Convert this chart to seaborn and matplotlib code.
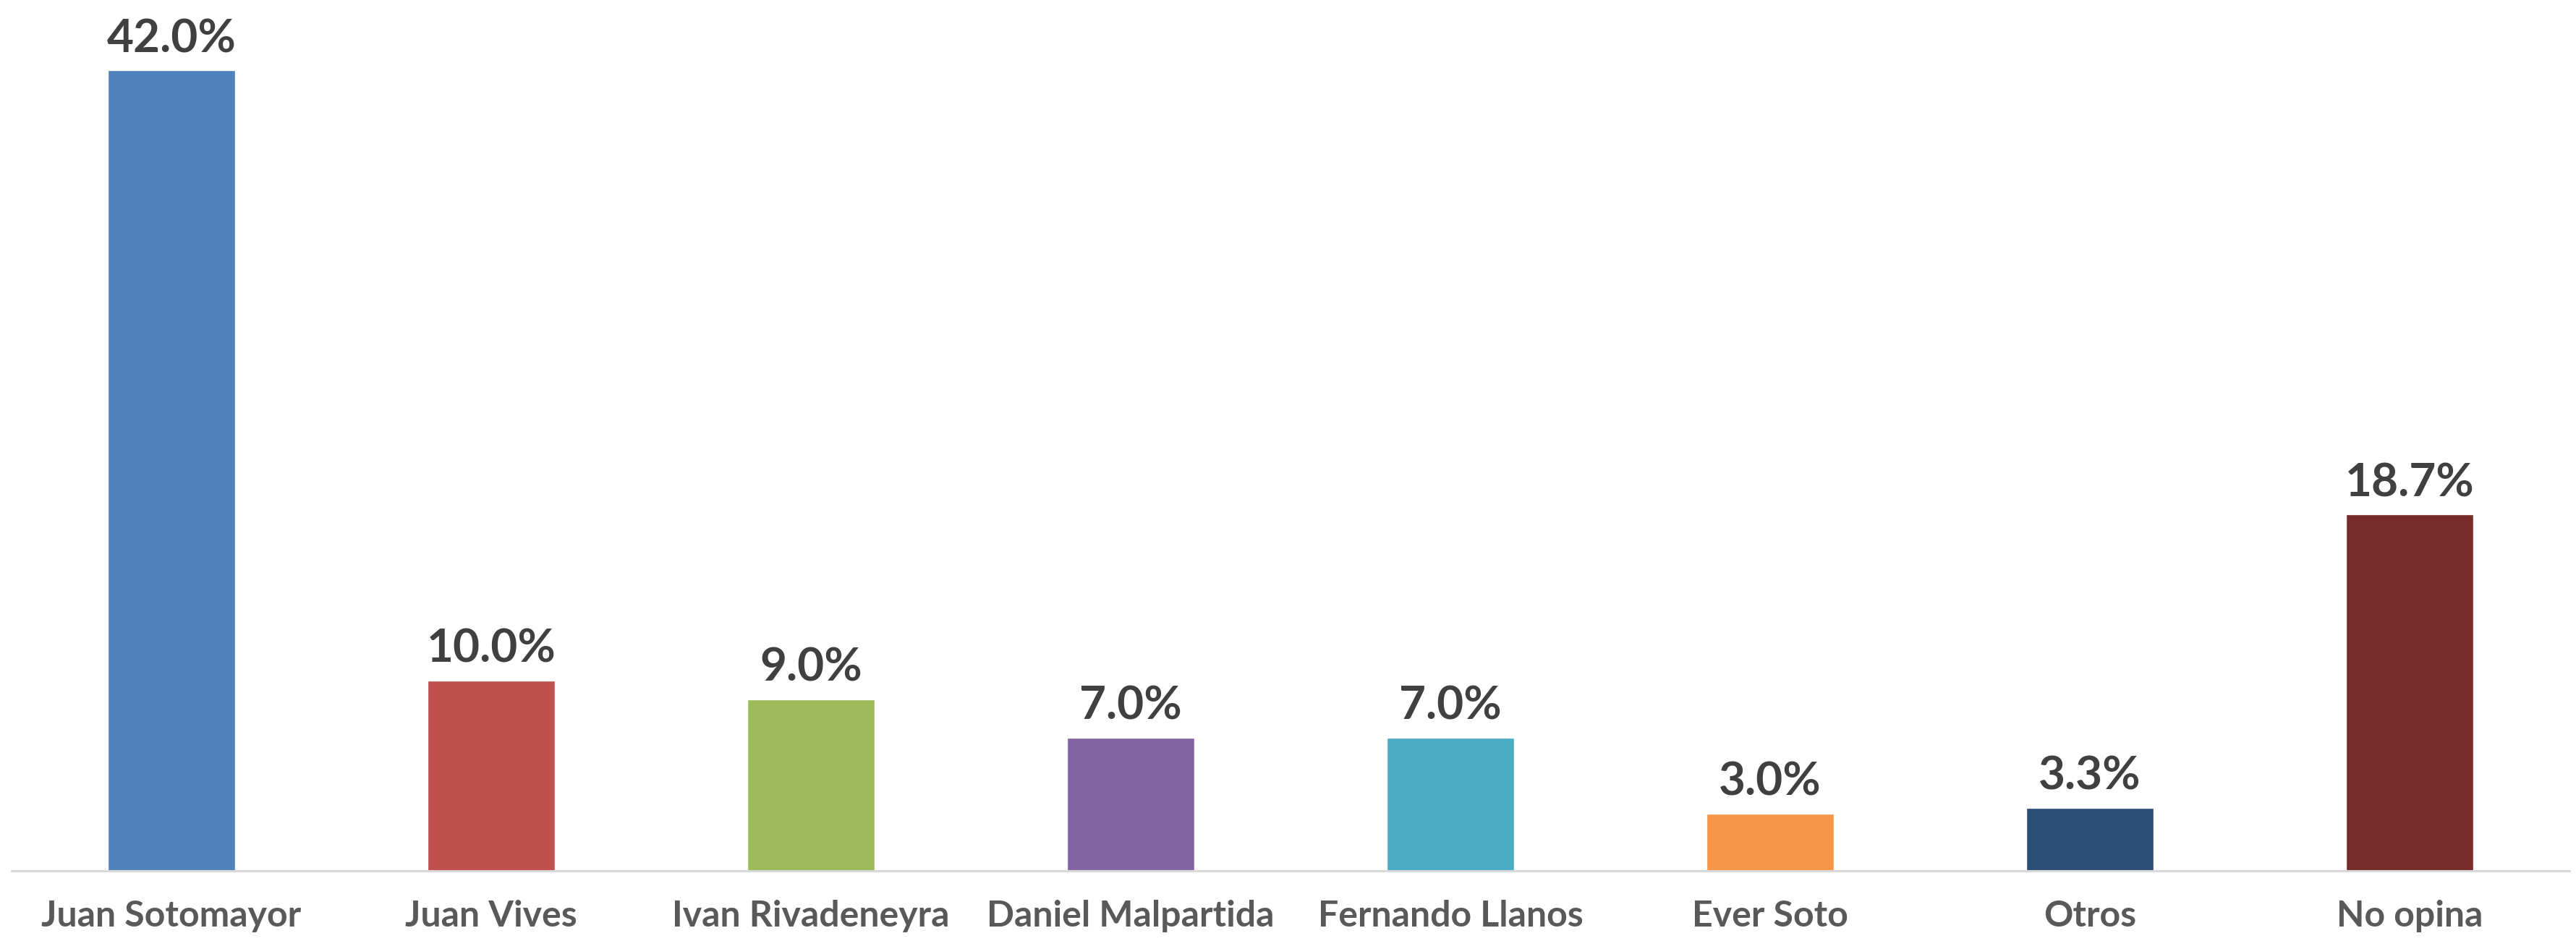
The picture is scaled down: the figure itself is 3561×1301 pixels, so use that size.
import matplotlib
matplotlib.use("Agg")
import matplotlib.pyplot as plt
import seaborn as sns
import pandas as pd

categories = ["Juan Sotomayor", "Juan Vives", "Ivan Rivadeneyra", "Daniel Malpartida",
              "Fernando Llanos", "Ever Soto", "Otros", "No opina"]
values = [42.0, 10.0, 9.0, 7.0, 7.0, 3.0, 3.3, 18.7]
colors = ["#4F81BD", "#C0504D", "#9BBB59", "#8064A2", "#4BACC6", "#F79646", "#2C4D75", "#772C2A"]

sns.set_theme(style="white")
plt.rcParams['font.family'] = ['Lato', 'DejaVu Sans']

df = pd.DataFrame({"cat": categories, "val": values})

fig = plt.figure(figsize=(35.61, 13.01), dpi=100)
ax = fig.add_axes([16/3561, (1301-1204)/1301, 3536/3561, 1204/1301])

sns.barplot(data=df, x="cat", y="val", hue="cat", palette=colors, dodge=False,
            width=0.4, legend=False, ax=ax, saturation=1)

ax.set_xlim(-0.5, len(categories) - 0.5)
ax.set_ylim(0, 45.7)

for c in ax.containers:
    ax.bar_label(c, labels=[f"{v:.1f}%" for v in c.datavalues], padding=11,
                 fontsize=46, fontweight='bold', color="#404040")

for s in ["top", "right", "left"]:
    ax.spines[s].set_visible(False)
ax.spines["bottom"].set_color("#D9D9D9")
ax.spines["bottom"].set_linewidth(2.25)
ax.set_yticks([])
ax.set_xlabel("")
ax.set_ylabel("")
ax.tick_params(axis='x', length=0, pad=29)
for lbl in ax.get_xticklabels():
    lbl.set_fontsize(36)
    lbl.set_fontweight('bold')
    lbl.set_color("#595959")

fig.savefig("out.png", dpi=100, facecolor="white")
